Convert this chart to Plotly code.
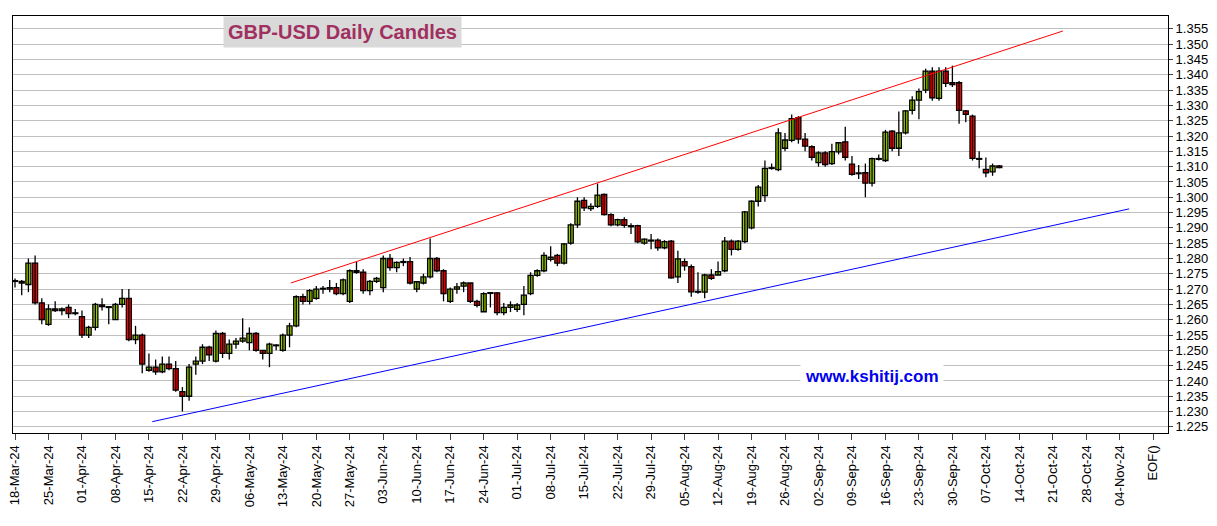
import pandas as pd
import plotly.graph_objects as go

# GBP-USD daily OHLC, 18-Mar-24 onwards (weekdays)
opens = [1.2725, 1.2725, 1.2715, 1.2785, 1.2655, 1.2585, 1.2635, 1.2630, 1.2640, 1.2620,
         1.2610, 1.2550, 1.2575, 1.2648, 1.2640, 1.2600, 1.2650, 1.2670, 1.2535, 1.2550,
         1.2435, 1.2445, 1.2430, 1.2455, 1.2440, 1.2365, 1.2350, 1.2455, 1.2465, 1.2510,
         1.2465, 1.2555, 1.2490, 1.2520, 1.2530, 1.2525, 1.2555, 1.2500, 1.2490, 1.2515,
         1.2500, 1.2550, 1.2580, 1.2675, 1.2660, 1.2670, 1.2700, 1.2700, 1.2705, 1.2685,
         1.2660, 1.2760, 1.2755, 1.2695, 1.2725, 1.2705, 1.2800, 1.2770, 1.2787, 1.2790,
         1.2700, 1.2720, 1.2740, 1.2800, 1.2760, 1.2660, 1.2700, 1.2710, 1.2720, 1.2660,
         1.2626, 1.2686, 1.2688, 1.2623, 1.2640, 1.2634, 1.2650, 1.2685, 1.2745, 1.2760,
         1.2797, 1.2810, 1.2785, 1.2850, 1.2910, 1.2990, 1.2963, 1.2970, 1.3009, 1.2943,
         1.2910, 1.2927, 1.2907, 1.2907, 1.2850, 1.2857, 1.2860, 1.2835, 1.2857, 1.2740,
         1.2790, 1.2773, 1.2690, 1.2690, 1.2746, 1.2746, 1.2760, 1.2857, 1.2830, 1.2855,
         1.2900, 1.2987, 1.3005, 1.3094, 1.3090, 1.3160, 1.3186, 1.3260, 1.3190, 1.3165,
         1.3113, 1.3145, 1.3110, 1.3148, 1.3181, 1.3108, 1.3077, 1.3080, 1.3046, 1.3124,
         1.3120, 1.3216, 1.3160, 1.3210, 1.3284, 1.3317, 1.3350, 1.3412, 1.3323, 1.3412,
         1.3374, 1.3374, 1.3282, 1.3265, 1.3124, 1.3091, 1.3083, 1.3102]
highs = [1.2735, 1.2730, 1.2800, 1.2810, 1.2670, 1.2650, 1.2660, 1.2640, 1.2650, 1.2635,
         1.2630, 1.2580, 1.2655, 1.2670, 1.2645, 1.2655, 1.2700, 1.2700, 1.2580, 1.2555,
         1.2490, 1.2470, 1.2480, 1.2480, 1.2465, 1.2380, 1.2455, 1.2480, 1.2520, 1.2515,
         1.2565, 1.2560, 1.2535, 1.2540, 1.2605, 1.2575, 1.2560, 1.2500, 1.2525, 1.2520,
         1.2555, 1.2590, 1.2680, 1.2685, 1.2700, 1.2710, 1.2710, 1.2730, 1.2720, 1.2735,
         1.2765, 1.2790, 1.2765, 1.2730, 1.2740, 1.2810, 1.2815, 1.2790, 1.2800, 1.2805,
         1.2725, 1.2750, 1.2865, 1.2805, 1.2765, 1.2705, 1.2720, 1.2725, 1.2720, 1.2665,
         1.2690, 1.2690, 1.2690, 1.2655, 1.2660, 1.2655, 1.2710, 1.2755, 1.2765, 1.2820,
         1.2840, 1.2815, 1.2850, 1.2915, 1.3000, 1.3000, 1.2980, 1.3045, 1.3012, 1.2948,
         1.2930, 1.2935, 1.2915, 1.2910, 1.2865, 1.2880, 1.2865, 1.2860, 1.2860, 1.2825,
         1.2800, 1.2780, 1.2755, 1.2750, 1.2765, 1.2790, 1.2870, 1.2862, 1.2860, 1.2955,
         1.2990, 1.3040, 1.3120, 1.3110, 1.3225, 1.3210, 1.3270, 1.3265, 1.3210, 1.3170,
         1.3150, 1.3150, 1.3175, 1.3180, 1.3230, 1.3135, 1.3105, 1.3110, 1.3130, 1.3140,
         1.3220, 1.3220, 1.3280, 1.3285, 1.3330, 1.3355, 1.3420, 1.3425, 1.3425, 1.3425,
         1.3430, 1.3380, 1.3285, 1.3270, 1.3150, 1.3130, 1.3110, 1.3105]
lows = [1.2705, 1.2680, 1.2690, 1.2650, 1.2585, 1.2580, 1.2625, 1.2615, 1.2605, 1.2615,
        1.2540, 1.2540, 1.2565, 1.2630, 1.2585, 1.2600, 1.2640, 1.2530, 1.2520, 1.2425,
        1.2430, 1.2420, 1.2425, 1.2435, 1.2365, 1.2300, 1.2335, 1.2420, 1.2455, 1.2465,
        1.2460, 1.2475, 1.2470, 1.2505, 1.2525, 1.2500, 1.2495, 1.2470, 1.2445, 1.2500,
        1.2495, 1.2510, 1.2575, 1.2650, 1.2650, 1.2665, 1.2685, 1.2690, 1.2680, 1.2680,
        1.2655, 1.2750, 1.2685, 1.2680, 1.2720, 1.2690, 1.2760, 1.2755, 1.2775, 1.2715,
        1.2690, 1.2715, 1.2735, 1.2755, 1.2660, 1.2655, 1.2685, 1.2690, 1.2655, 1.2640,
        1.2625, 1.2640, 1.2615, 1.2615, 1.2625, 1.2625, 1.2615, 1.2680, 1.2740, 1.2755,
        1.2790, 1.2775, 1.2780, 1.2845, 1.2900, 1.2955, 1.2955, 1.2965, 1.2940, 1.2905,
        1.2905, 1.2900, 1.2880, 1.2850, 1.2845, 1.2830, 1.2825, 1.2830, 1.2735, 1.2720,
        1.2760, 1.2675, 1.2685, 1.2670, 1.2730, 1.2745, 1.2755, 1.2810, 1.2825, 1.2850,
        1.2895, 1.2970, 1.2985, 1.3090, 1.3085, 1.3150, 1.3180, 1.3175, 1.3150, 1.3120,
        1.3100, 1.3100, 1.3105, 1.3140, 1.3120, 1.3070, 1.3060, 1.3000, 1.3035, 1.3120,
        1.3115, 1.3150, 1.3135, 1.3205, 1.3270, 1.3255, 1.3340, 1.3315, 1.3315, 1.3360,
        1.3360, 1.3240, 1.3245, 1.3120, 1.3095, 1.3065, 1.3070, 1.3095]
closes = [1.2725, 1.2720, 1.2785, 1.2655, 1.2600, 1.2635, 1.2630, 1.2635, 1.2620, 1.2620,
          1.2550, 1.2575, 1.2650, 1.2643, 1.2640, 1.2650, 1.2670, 1.2535, 1.2550, 1.2455,
          1.2445, 1.2430, 1.2455, 1.2440, 1.2370, 1.2350, 1.2445, 1.2465, 1.2510, 1.2485,
          1.2555, 1.2490, 1.2520, 1.2530, 1.2540, 1.2555, 1.2500, 1.2490, 1.2520, 1.2515,
          1.2550, 1.2580, 1.2675, 1.2660, 1.2695, 1.2700, 1.2700, 1.2705, 1.2685, 1.2730,
          1.2760, 1.2755, 1.2695, 1.2725, 1.2735, 1.2800, 1.2770, 1.2787, 1.2790, 1.2720,
          1.2724, 1.2740, 1.2800, 1.2760, 1.2685, 1.2700, 1.2707, 1.2720, 1.2660, 1.2647,
          1.2685, 1.2686, 1.2623, 1.2640, 1.2648, 1.2648, 1.2680, 1.2745, 1.2760, 1.2810,
          1.2804, 1.2785, 1.2848, 1.2910, 1.2987, 1.2965, 1.2970, 1.3007, 1.2943, 1.2910,
          1.2927, 1.2908, 1.2904, 1.2854, 1.2863, 1.2860, 1.2835, 1.2855, 1.2737, 1.2799,
          1.2776, 1.2691, 1.2690, 1.2746, 1.2735, 1.2757, 1.2857, 1.2830, 1.2857, 1.2952,
          1.2987, 1.3033, 1.3094, 1.3094, 1.3210, 1.3187, 1.3257, 1.3190, 1.3167, 1.3130,
          1.3145, 1.3107, 1.3149, 1.3178, 1.3130, 1.3075, 1.3077, 1.3046, 1.3126, 1.3124,
          1.3213, 1.3160, 1.3210, 1.3282, 1.3317, 1.3345, 1.3412, 1.3325, 1.3412, 1.3372,
          1.3368, 1.3284, 1.3271, 1.3127, 1.3124, 1.3080, 1.3102, 1.3097]

# trend channel endpoints (trading-day index, price)
red_x = [41.2, 156.5]
red_y = [1.2720, 1.3543]
blue_x = [20.5, 166.4]
blue_y = [1.2267, 1.2962]

days = pd.bdate_range("2024-03-18", periods=175)
idx = list(range(len(closes)))
tick_pos = list(range(0, 166, 5)) + [170]
tick_text = [days[i].strftime("%d-%b-%y") for i in range(0, 166, 5)] + ["EOF()"]

# wicks as one broken line, bodies as bars
wick_x, wick_y = [], []
for i in idx:
    wick_x += [i, i, None]
    wick_y += [lows[i], highs[i], None]
body_base = [min(o, c) for o, c in zip(opens, closes)]
body_h = [max(abs(c - o), 0.00025) for o, c in zip(opens, closes)]
body_col = ["#99cc00" if c >= o else "#ff0000" for o, c in zip(opens, closes)]

fig = go.Figure()
fig.add_trace(go.Scatter(x=wick_x, y=wick_y, mode="lines",
                         line=dict(color="black", width=1.3), showlegend=False))
fig.add_trace(go.Bar(x=idx, y=body_h, base=body_base, width=0.75,
                     marker=dict(color=body_col, line=dict(color="black", width=1.3)),
                     showlegend=False))
fig.add_trace(go.Scatter(x=red_x, y=red_y, mode="lines",
                         line=dict(color="red", width=1), showlegend=False))
fig.add_trace(go.Scatter(x=blue_x, y=blue_y, mode="lines",
                         line=dict(color="blue", width=1), showlegend=False))

fig.update_layout(
    width=1217, height=526,
    margin=dict(l=5, r=57, t=8, b=101),
    paper_bgcolor="white", plot_bgcolor="white",
    font=dict(family="Liberation Sans, Arial", size=13, color="black"),
    xaxis=dict(range=[-0.3, 172.2], tickvals=tick_pos, ticktext=tick_text,
               tickangle=-90, ticks="outside", ticklen=6, showgrid=False,
               showline=True, linecolor="black", mirror=True, automargin=False,
               zeroline=False, ticklabeloverflow="allow"),
    yaxis=dict(side="right", range=[1.2230, 1.3592], dtick=0.005, tick0=1.225,
               tickformat=".3f", showgrid=True, gridcolor="#c0c0c0",
               ticks="outside", ticklen=4, showline=True, linecolor="black",
               mirror=True, zeroline=False, automargin=False),
)
fig.add_annotation(xref="paper", yref="paper", x=0.285, y=1.0, xanchor="center",
                   yanchor="top", text="<b>GBP-USD Daily Candles</b>", showarrow=False,
                   bgcolor="#d9d9d9", font=dict(size=20, color="#a0305f"),
                   borderpad=4)
fig.add_annotation(xref="x", yref="y", x=128, y=1.2415, text="<b>www.kshitij.com</b>",
                   showarrow=False, bgcolor="white",
                   font=dict(size=17, color="#0000ee"), borderpad=4)

fig.write_html("out.html")
